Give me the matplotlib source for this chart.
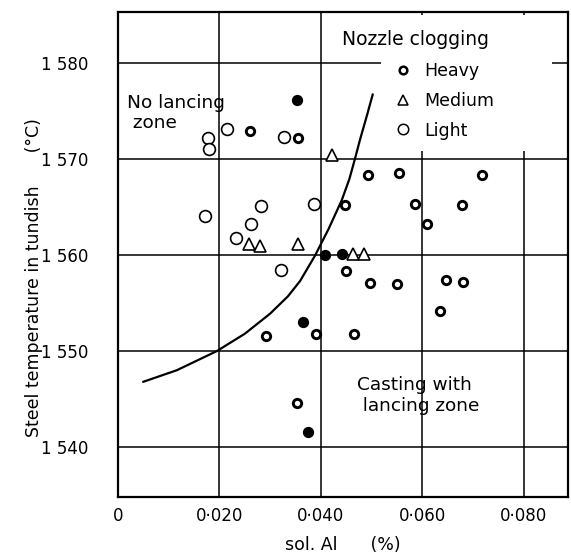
import matplotlib
matplotlib.use("Agg")
import matplotlib.pyplot as plt
from matplotlib.patches import Rectangle
from matplotlib.lines import Line2D

# ---- data ----
heavy_al = [0.0353, 0.0260, 0.0354, 0.0493, 0.0554, 0.0717, 0.0447, 0.0585, 0.0679,
            0.0610, 0.0409, 0.0441, 0.0449, 0.0497, 0.0549, 0.0646, 0.0680, 0.0634,
            0.0292, 0.0364, 0.0390, 0.0465, 0.0352, 0.0374]
heavy_t = [1576.1, 1572.9, 1572.2, 1568.3, 1568.5, 1568.3, 1565.2, 1565.3, 1565.2,
           1563.2, 1560.0, 1560.1, 1558.3, 1557.1, 1557.0, 1557.4, 1557.2, 1554.2,
           1551.6, 1553.0, 1551.8, 1551.8, 1544.6, 1541.6]
heavy_solid = [1, 0, 0, 0, 0, 0, 0, 0, 0,
               0, 1, 1, 0, 0, 0, 0, 0, 0,
               0, 1, 0, 0, 0, 1]

medium_al = [0.0421, 0.0259, 0.0280, 0.0354, 0.0464, 0.0485]
medium_t = [1570.4, 1561.1, 1560.9, 1561.1, 1560.1, 1560.1]

light_al = [0.0178, 0.0179, 0.0214, 0.0328, 0.0171, 0.0281, 0.0262, 0.0232, 0.0386, 0.0321]
light_t = [1572.2, 1571.0, 1573.1, 1572.3, 1564.1, 1565.1, 1563.2, 1561.8, 1565.3, 1558.4]

curve_al = [0.0050, 0.0116, 0.0195, 0.0250, 0.0300, 0.0335, 0.0359, 0.0388, 0.0415,
            0.0441, 0.0456, 0.0467, 0.0477, 0.0490, 0.0502]
curve_t = [1546.8, 1548.0, 1550.0, 1551.8, 1553.9, 1555.7, 1557.3, 1559.9, 1562.7,
           1565.7, 1567.9, 1570.0, 1572.0, 1574.4, 1576.7]

x_ticks = [0, 0.020, 0.040, 0.060, 0.080]
x_ticklabels = ["0", "0·020", "0·040", "0·060", "0·080"]
y_ticks = [1540, 1550, 1560, 1570, 1580]
y_ticklabels = ["1 540", "1 550", "1 560", "1 570", "1 580"]

plt.rcParams['font.family'] = ['DejaVu Sans']
fig = plt.figure(figsize=(5.71, 5.59), dpi=100)
ax = fig.add_axes([118/571, 62/559, 450/571, 485/559])
ax.set_xlim(0, 0.0887)
ax.set_ylim(1534.8, 1585.3)

ax.set_xticks(x_ticks)
ax.set_xticklabels(x_ticklabels)
ax.set_yticks(y_ticks)
ax.set_yticklabels(y_ticklabels)
ax.tick_params(axis='both', length=0, labelsize=12)
ax.tick_params(axis='y', pad=21)
ax.tick_params(axis='x', pad=7)
for s in ax.spines.values():
    s.set_linewidth(1.6)

# grid
for xv in x_ticks[1:]:
    ax.axvline(xv, color='black', lw=1.1, zorder=1)
for yv in y_ticks:
    ax.axhline(yv, color='black', lw=1.1, zorder=1)

# blank area behind the legend
ax.add_patch(Rectangle((0.585, 0.713), 0.38, 0.28, transform=ax.transAxes,
                       facecolor='white', edgecolor='none', zorder=2))

# curve
ax.plot(curve_al, curve_t, color='black', lw=1.6, zorder=3)

# points
ax.plot(light_al, light_t, linestyle='none', marker='o', markersize=8.5,
        markerfacecolor='white', markeredgecolor='black', markeredgewidth=1.2, zorder=4)
ax.plot(medium_al, medium_t, linestyle='none', marker='^', markersize=8.5,
        markerfacecolor='white', markeredgecolor='black', markeredgewidth=1.2, zorder=4)
for a, t, s in zip(heavy_al, heavy_t, heavy_solid):
    ax.plot([a], [t], linestyle='none', marker='o', markersize=6.0,
            markerfacecolor='black' if s else 'white', markeredgecolor='black',
            markeredgewidth=2.1, zorder=4)

# legend
handles = [
    Line2D([], [], linestyle='none', marker='o', markersize=5.5, markerfacecolor='white',
           markeredgecolor='black', markeredgewidth=1.8),
    Line2D([], [], linestyle='none', marker='^', markersize=7, markerfacecolor='white',
           markeredgecolor='black', markeredgewidth=1.1),
    Line2D([], [], linestyle='none', marker='o', markersize=7.5, markerfacecolor='white',
           markeredgecolor='black', markeredgewidth=1.1),
]
leg = ax.legend(handles, ["Heavy", "Medium", "Light"], loc='upper left',
                bbox_to_anchor=(0.613, 0.897), frameon=False, fontsize=12.5,
                handlelength=1.0, handletextpad=0.75, labelspacing=0.68,
                borderpad=0, borderaxespad=0)
leg.set_zorder(5)
ax.text(0.0587, 1582.4, "Nozzle clogging", ha='center', va='center', fontsize=13.5, zorder=5)

# zone texts
ax.text(0.0017, 1574.8, "No lancing\n zone", ha='left', va='center', fontsize=13.3,
        linespacing=1.15, zorder=5)
ax.text(0.0585, 1545.4, "Casting with\n  lancing zone", ha='center', va='center',
        fontsize=13.3, linespacing=1.2, zorder=5)

ax.set_xlabel("sol. Al      (%)", fontsize=12.5, labelpad=8)
ax.set_ylabel("Steel temperature in tundish      (°C)", fontsize=12.5)
ax.yaxis.set_label_coords(-0.166, 0.452)

fig.savefig("out.png", dpi=100)
